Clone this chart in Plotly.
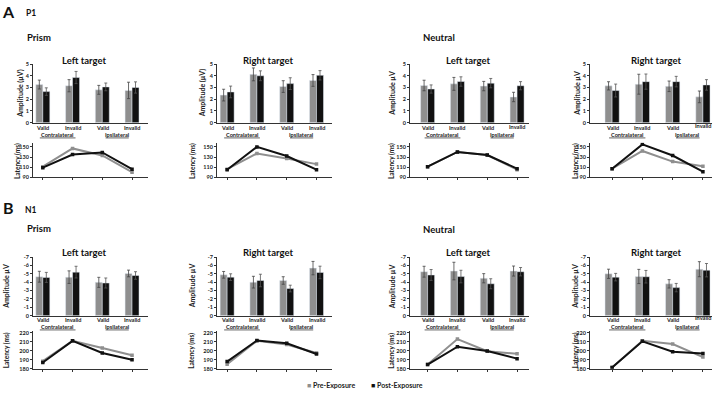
import plotly.graph_objects as go

# ---------------- data ----------------
conditions = [0, 1, 2, 3]
cond_labels = ["Valid", "Invalid", "Valid", "Invalid"]
side_labels = ["Contralateral", "Ipsilateral"]

# P1 amplitudes (µV)
p1_prism_left_pre = [3.25, 3.15, 2.8, 2.75]
p1_prism_left_pre_err = [0.38, 0.52, 0.38, 0.7]
p1_prism_left_post = [2.65, 3.85, 3.05, 3.0]
p1_prism_left_post_err = [0.32, 0.52, 0.33, 0.48]
p1_prism_right_pre = [2.35, 4.12, 3.08, 3.6]
p1_prism_right_pre_err = [0.5, 0.55, 0.5, 0.5]
p1_prism_right_post = [2.62, 4.0, 3.33, 4.04]
p1_prism_right_post_err = [0.5, 0.42, 0.5, 0.4]
p1_neutral_left_pre = [3.17, 3.31, 3.12, 2.19]
p1_neutral_left_pre_err = [0.45, 0.55, 0.4, 0.4]
p1_neutral_left_post = [2.87, 3.51, 3.37, 3.15]
p1_neutral_left_post_err = [0.35, 0.4, 0.4, 0.35]
p1_neutral_right_pre = [3.14, 3.28, 3.1, 2.2]
p1_neutral_right_pre_err = [0.35, 0.85, 0.45, 0.5]
p1_neutral_right_post = [2.74, 3.5, 3.5, 3.22]
p1_neutral_right_post_err = [0.55, 0.65, 0.45, 0.45]

# P1 latencies (ms)
p1_lat_prism_left_pre = [111, 147, 133, 100]
p1_lat_prism_left_post = [109, 135, 139, 106]
p1_lat_prism_right_pre = [106, 137, 127, 116]
p1_lat_prism_right_post = [105, 150, 132, 105]
p1_lat_neutral_left_pre = [111, 140, 134, 105]
p1_lat_neutral_left_post = [111, 140, 134, 107]
p1_lat_neutral_right_pre = [107, 142, 121, 112]
p1_lat_neutral_right_post = [107, 155, 133, 101]

# N1 amplitudes (µV)
n1_prism_left_pre = [-4.65, -4.6, -3.98, -5.04]
n1_prism_left_pre_err = [0.65, 0.75, 0.6, 0.4]
n1_prism_left_post = [-4.57, -5.2, -3.9, -4.8]
n1_prism_left_post_err = [0.6, 0.7, 0.6, 0.45]
n1_prism_right_pre = [-4.88, -4.0, -4.2, -5.68]
n1_prism_right_pre_err = [0.4, 0.7, 0.45, 0.8]
n1_prism_right_post = [-4.6, -4.2, -3.24, -5.16]
n1_prism_right_post_err = [0.4, 0.75, 0.4, 0.75]
n1_neutral_left_pre = [-5.25, -5.33, -4.47, -5.33]
n1_neutral_left_pre_err = [0.65, 1.05, 0.55, 0.6]
n1_neutral_left_post = [-4.86, -4.67, -3.81, -5.25]
n1_neutral_left_post_err = [0.65, 0.75, 0.6, 0.5]
n1_neutral_right_pre = [-5.0, -4.68, -3.8, -5.55]
n1_neutral_right_pre_err = [0.55, 0.85, 0.5, 0.9]
n1_neutral_right_post = [-4.6, -4.65, -3.35, -5.43]
n1_neutral_right_post_err = [0.45, 0.75, 0.5, 0.8]

# N1 latencies (ms)
n1_lat_prism_left_pre = [188.5, 211, 203, 195]
n1_lat_prism_left_post = [187, 211, 197.5, 190]
n1_lat_prism_right_pre = [185, 211, 207, 197.6]
n1_lat_prism_right_post = [188, 211.4, 208.4, 196.4]
n1_lat_neutral_left_pre = [184.7, 213, 199.5, 196.7]
n1_lat_neutral_left_post = [184.7, 204.5, 199.8, 191.3]
n1_lat_neutral_right_pre = [181.5, 211, 207.5, 193]
n1_lat_neutral_right_post = [181.5, 210.5, 199, 197]

p1_amp_ticks = [0, 1, 2, 3, 4, 5]
p1_lat_ticks = [90, 110, 130, 150]
n1_amp_ticks = [0, -1, -2, -3, -4, -5, -6, -7]
n1_lat_ticks = [180, 190, 200, 210, 220]

# ---------------- styling / layout ----------------
W, H = 720, 393
FONT = "Lato"
GRAY = "#8f8f8f"
BLACK = "#111111"
TXT = "#222222"


def px(x):
    return x / W


def py(y):
    return 1 - y / H


cols = [
    dict(x0=33, x1=147.5, rng=[-0.33, 3.52], tx=84, ya=20.5, yl=17, ybn=6.5),
    dict(x0=217, x1=332, rng=[-0.34, 3.52], tx=268, ya=202, yl=192, ybn=192),
    dict(x0=410, x1=529, rng=[-0.59, 3.4], tx=468, ya=392.5, yl=391, ybn=392),
    dict(x0=590, x1=712, rng=[-0.73, 3.3], tx=656, ya=577.5, yl=575, ybn=575.5),
]
titles = ["Left target", "Right target", "Left target", "Right target"]

panels = [
    ("A", 0, p1_prism_left_pre, p1_prism_left_pre_err, p1_prism_left_post, p1_prism_left_post_err,
     p1_lat_prism_left_pre, p1_lat_prism_left_post, "Amplitude (µV)"),
    ("A", 1, p1_prism_right_pre, p1_prism_right_pre_err, p1_prism_right_post, p1_prism_right_post_err,
     p1_lat_prism_right_pre, p1_lat_prism_right_post, "Amplitude (µV)"),
    ("A", 2, p1_neutral_left_pre, p1_neutral_left_pre_err, p1_neutral_left_post, p1_neutral_left_post_err,
     p1_lat_neutral_left_pre, p1_lat_neutral_left_post, "Amplitude µV"),
    ("A", 3, p1_neutral_right_pre, p1_neutral_right_pre_err, p1_neutral_right_post, p1_neutral_right_post_err,
     p1_lat_neutral_right_pre, p1_lat_neutral_right_post, "Amplitude µV"),
    ("B", 0, n1_prism_left_pre, n1_prism_left_pre_err, n1_prism_left_post, n1_prism_left_post_err,
     n1_lat_prism_left_pre, n1_lat_prism_left_post, "Amplitude µV"),
    ("B", 1, n1_prism_right_pre, n1_prism_right_pre_err, n1_prism_right_post, n1_prism_right_post_err,
     n1_lat_prism_right_pre, n1_lat_prism_right_post, "Amplitude µV"),
    ("B", 2, n1_neutral_left_pre, n1_neutral_left_pre_err, n1_neutral_left_post, n1_neutral_left_post_err,
     n1_lat_neutral_left_pre, n1_lat_neutral_left_post, "Amplitude µV"),
    ("B", 3, n1_neutral_right_pre, n1_neutral_right_pre_err, n1_neutral_right_post, n1_neutral_right_post_err,
     n1_lat_neutral_right_pre, n1_lat_neutral_right_post, "Amplitude µV"),
]

rowgeo = {
    "A": dict(amp=(62, 121.5), lat=(142, 177), amp_rng=[0, 5], amp_ticks=p1_amp_ticks,
              lat_rng=[90, 158], lat_ticks=p1_lat_ticks, lab1=126.8, lab2=133.6, title_y=58),
    "B": dict(amp=(258, 317.5), lat=(333, 371.5), amp_rng=[0, -7], amp_ticks=n1_amp_ticks,
              lat_rng=[180, 222], lat_ticks=n1_lat_ticks, lab1=321.8, lab2=328.6, title_y=253),
}
# small upward shift of the last "Invalid" label in some panels (as in the original)
raise_last = {("A", 2): 1.8, ("A", 3): 2, ("B", 2): 0.8, ("B", 3): 2}

fig = go.Figure()
layout = {}
annotations = []
shapes = []
tickfont = dict(family=FONT, size=5.5, color=TXT, weight="bold")


def note(x, y, text, size, xref="paper", angle=0, color="#111", xanchor="center", pad=1):
    return dict(x=x, y=y, xref=xref, yref="paper", text=text, showarrow=False,
                xanchor=xanchor, yanchor="middle", textangle=angle, borderpad=pad,
                font=dict(family=FONT, size=size, color=color))


n = 0
for i, (row, c, pre, pre_e, post, post_e, lpre, lpost, ytitle) in enumerate(panels):
    col = cols[c]
    g = rowgeo[row]
    n += 1
    xa, ya = f"x{n}", f"y{n}"
    xk = "xaxis" if n == 1 else f"xaxis{n}"
    yk = "yaxis" if n == 1 else f"yaxis{n}"
    fig.add_trace(go.Bar(x=conditions, y=pre, xaxis=xa, yaxis=ya, marker_color=GRAY,
                         name="Pre-Exposure", showlegend=False,
                         error_y=dict(type="data", array=pre_e, color="#444", thickness=0.8, width=1.5)))
    fig.add_trace(go.Bar(x=conditions, y=post, xaxis=xa, yaxis=ya, marker_color=BLACK,
                         name="Post-Exposure", showlegend=False,
                         error_y=dict(type="data", array=post_e, color="#555", thickness=0.8, width=1.5)))
    layout[xk] = dict(domain=[px(col["x0"]), px(col["x1"])], range=col["rng"], anchor=ya,
                      showline=True, linecolor="#333", linewidth=1, showgrid=False, zeroline=False,
                      showticklabels=False, ticks="", fixedrange=True)
    layout[yk] = dict(domain=[py(g["amp"][1]), py(g["amp"][0])], range=g["amp_rng"], anchor=xa,
                      tickvals=g["amp_ticks"], ticktext=[str(v) for v in g["amp_ticks"]],
                      showline=True, linecolor="#333", linewidth=1, showgrid=False, zeroline=False,
                      ticks="outside", ticklen=2, tickcolor="#333", tickfont=tickfont, fixedrange=True)
    amp_x = xa
    n += 1
    xl, yl = f"x{n}", f"y{n}"
    fig.add_trace(go.Scatter(x=conditions, y=lpre, xaxis=xl, yaxis=yl, mode="lines+markers",
                             line=dict(color=GRAY, width=2), marker=dict(symbol="square", size=3.5, color=GRAY),
                             showlegend=False))
    fig.add_trace(go.Scatter(x=conditions, y=lpost, xaxis=xl, yaxis=yl, mode="lines+markers",
                             line=dict(color=BLACK, width=2), marker=dict(symbol="square", size=3.5, color=BLACK),
                             showlegend=False))
    layout[f"xaxis{n}"] = dict(domain=[px(col["x0"]), px(col["x1"])], range=col["rng"], anchor=yl,
                               showline=True, linecolor="#333", linewidth=1, showgrid=False, zeroline=False,
                               tickvals=conditions, showticklabels=False, ticks="outside", ticklen=2,
                               tickcolor="#333", fixedrange=True)
    layout[f"yaxis{n}"] = dict(domain=[py(g["lat"][1]), py(g["lat"][0])], range=g["lat_rng"], anchor=xl,
                               tickvals=g["lat_ticks"], showline=True, linecolor="#333", linewidth=1,
                               showgrid=False, zeroline=False, ticks="outside", ticklen=2, tickcolor="#333",
                               tickfont=tickfont, fixedrange=True)

    annotations.append(note(px(col["tx"]), py(g["title_y"]), "<b>" + titles[c] + "</b>", 9.5))
    yat = col["ya"] if row == "A" else col["ybn"]
    ylt = col["yl"] if row == "A" else col["ybn"]
    annotations.append(note(px(yat), py((g["amp"][0] + g["amp"][1]) / 2), "<b>" + ytitle + "</b>", 7,
                            angle=-90, color=TXT, pad=0))
    annotations.append(note(px(ylt), py((g["lat"][0] + g["lat"][1]) / 2 + 1), "<b>Latency (ms)</b>", 6.5,
                            angle=-90, color=TXT, pad=0))
    for k, lab in enumerate(cond_labels):
        dy = raise_last.get((row, c), 0) if k == 3 else 0
        annotations.append(note(conditions[k], py(g["lab1"] - dy), "<b>" + lab + "</b>", 5.6, xref=amp_x,
                                color=TXT, pad=0))
    for k, lab in enumerate(side_labels):
        xc = (conditions[2 * k] + conditions[2 * k + 1]) / 2
        annotations.append(note(xc, py(g["lab2"]), "<b>" + lab + "</b>", 5.6, xref=amp_x, color=TXT, pad=0))
        half = 0.6 if k == 0 else 0.39
        shapes.append(dict(type="line", xref=amp_x, yref="paper", x0=xc - half, x1=xc + half,
                           y0=py(g["lab2"] + 3.4), y1=py(g["lab2"] + 3.4),
                           line=dict(color=TXT, width=0.7)))

heads = [
    ("<b>A</b>", 8, 8.5, 16), ("<b>P1</b>", 30.5, 10.5, 8.5), ("<b>Prism</b>", 38.5, 35, 9.5),
    ("<b>Neutral</b>", 439, 35, 9.5),
    ("<b>B</b>", 8, 208, 16), ("<b>N1</b>", 30.5, 210.5, 8.5), ("<b>Prism</b>", 38.5, 229.5, 9.5),
    ("<b>Neutral</b>", 439, 230, 9.5),
]
for t, x, y, s in heads:
    annotations.append(note(px(x), py(y), t, s))

annotations.append(note(px(305), py(388), f'<span style="color:{GRAY}">■</span> <b>Pre-Exposure</b>', 7,
                        color=TXT, xanchor="left"))
annotations.append(note(px(369), py(388), f'<span style="color:{BLACK}">■</span> <b>Post-Exposure</b>', 7,
                        color=TXT, xanchor="left"))

fig.update_layout(
    width=W, height=H, margin=dict(l=0, r=0, t=0, b=0),
    paper_bgcolor="white", plot_bgcolor="white",
    barmode="group", bargap=0.53, bargroupgap=0.0,
    showlegend=False, annotations=annotations, shapes=shapes,
    font=dict(family=FONT, color=TXT),
    **layout,
)

fig.write_html("out.html", config={"displayModeBar": False},
               post_script="document.body.style.margin='0';document.body.style.overflow='hidden';")
